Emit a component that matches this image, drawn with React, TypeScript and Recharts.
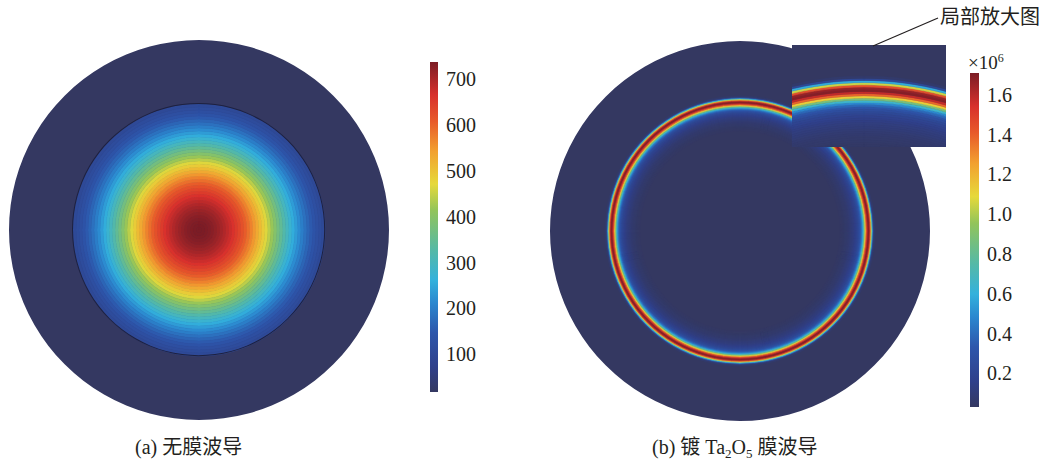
import React from "react";
import {
  PieChart,
  Pie,
  Cell,
  RadialBarChart,
  RadialBar,
  PolarAngleAxis,
  BarChart,
  Bar,
  XAxis,
  YAxis,
} from "recharts";

// colour map (rainbow, low -> high)
const cmapPos = [0, 0.077, 0.179, 0.269, 0.338, 0.43, 0.55, 0.63, 0.73, 0.82, 0.9, 1];
const cmapColors = [
  "#343861",
  "#2f408b",
  "#2d56ab",
  "#2b87cf",
  "#33b1dc",
  "#55b9a6",
  "#92c45a",
  "#e6d93a",
  "#f2a030",
  "#e85a2a",
  "#d8302c",
  "#7b1c25",
];

// (a) bare waveguide: field across the core, centre -> core edge
const coreField = [
  738, 737, 735, 732, 727, 721, 714, 706, 697, 687, 676, 664, 651, 637, 622,
  606, 589, 571, 552, 532, 511, 489, 466, 442, 418, 394, 370, 346, 322, 299,
  277, 256, 236, 217, 199, 182, 166, 151, 137, 124, 112, 101,
];
const rangeA: [number, number] = [17, 738];
const ticksA = [100, 200, 300, 400, 500, 600, 700];

// (b) Ta2O5 coated: field across the film ring, inner -> outer (x10^6)
const ringField = [
  0.035, 0.04, 0.04, 0.045, 0.05, 0.055, 0.06, 0.065, 0.07, 0.08, 0.09, 0.1,
  0.11, 0.12, 0.135, 0.15, 0.17, 0.19, 0.22, 0.26, 0.31, 0.38, 0.48, 0.64,
  0.86, 1.12, 1.38, 1.58, 1.69, 1.66, 1.45, 1.05, 0.58, 0.22, 0.06,
];
const rangeB: [number, number] = [0.03, 1.71];
const ticksB = [0.2, 0.4, 0.6, 0.8, 1.0, 1.2, 1.4, 1.6];

const SERIF = "'Liberation Serif', 'Times New Roman', 'Noto Sans CJK SC', serif";
const INK = "#231f20";

const hex = (h: string) => [1, 3, 5].map((i) => parseInt(h.slice(i, i + 2), 16));
const colorAt = (t: number) => {
  const x = Math.max(0, Math.min(1, t));
  let i = 0;
  while (i < cmapPos.length - 2 && x > cmapPos[i + 1]) i++;
  const f = (x - cmapPos[i]) / (cmapPos[i + 1] - cmapPos[i]);
  const a = hex(cmapColors[i]);
  const b = hex(cmapColors[i + 1]);
  const c = a.map((v, k) => Math.round(v + (b[k] - v) * f));
  return `rgb(${c[0]},${c[1]},${c[2]})`;
};
const NAVY = cmapColors[0];

const Disc = ({ cx, cy, r, inner = 0, fill }: any) => {
  const s = r * 2 + 4;
  return (
    <div style={{ position: "absolute", left: cx - r - 2, top: cy - r - 2 }}>
      <PieChart width={s} height={s} margin={{ top: 0, right: 0, bottom: 0, left: 0 }}>
        <Pie
          data={[{ v: 1 }]}
          dataKey="v"
          cx={r + 2}
          cy={r + 2}
          innerRadius={inner}
          outerRadius={r}
          startAngle={90}
          endAngle={-270}
          fill={fill}
          stroke="none"
          isAnimationActive={false}
        />
      </PieChart>
    </div>
  );
};

const Rings = ({ w, h, cx, cy, inner, outer, values, range }: any) => {
  const data = values.map((v: number, i: number) => ({ i, v, full: 1 }));
  return (
    <RadialBarChart
      width={w}
      height={h}
      cx={cx}
      cy={cy}
      innerRadius={inner}
      outerRadius={outer}
      data={data}
      startAngle={90}
      endAngle={-270}
      barCategoryGap={0}
      barGap={0}
      margin={{ top: 0, right: 0, bottom: 0, left: 0 }}
    >
      <PolarAngleAxis type="number" domain={[0, 1]} tick={false} axisLine={false} />
      <RadialBar dataKey="full" isAnimationActive={false}>
        {data.map((d: any) => {
          const c = colorAt((d.v - range[0]) / (range[1] - range[0]));
          return <Cell key={d.i} fill={c} stroke={c} strokeWidth={0.6} />;
        })}
      </RadialBar>
    </RadialBarChart>
  );
};

const ColorBar = ({ left, top, height, barW, range, ticks, fmt, id }: any) => (
  <div style={{ position: "absolute", left, top }}>
    <BarChart
      width={barW + 62}
      height={height}
      data={[{ k: "c", span: range }]}
      margin={{ top: 0, right: 0, bottom: 0, left: 0 }}
      barCategoryGap={0}
    >
      <defs>
        <linearGradient id={id} x1="0" y1="1" x2="0" y2="0">
          {cmapPos.map((p, i) => (
            <stop key={i} offset={p} stopColor={cmapColors[i]} />
          ))}
        </linearGradient>
      </defs>
      <XAxis dataKey="k" hide />
      <YAxis
        orientation="right"
        type="number"
        domain={range}
        ticks={ticks}
        interval={0}
        tickFormatter={fmt}
        axisLine={false}
        tickLine={false}
        width={62}
        allowDataOverflow
        tick={{ fill: INK, fontSize: 20, fontFamily: SERIF }}
      />
      <Bar dataKey="span" fill={`url(#${id})`} isAnimationActive={false} />
    </BarChart>
  </div>
);

export default function App() {
  const ax = 199, ay = 230;
  const bx = 740, by = 231;
  return (
    <div
      style={{
        position: "absolute",
        left: 0,
        top: 0,
        width: 1047,
        height: 464,
        background: "#fff",
        fontFamily: SERIF,
        color: INK,
      }}
    >
      {/* (a) */}
      <Disc cx={ax} cy={ay} r={190} fill={NAVY} />
      <div style={{ position: "absolute", left: ax - 130, top: ay - 130 }}>
        <Rings w={260} h={260} cx={130} cy={130} inner={0} outer={126} values={coreField} range={rangeA} />
      </div>
      <Disc cx={ax} cy={ay} r={126.6} inner={125.6} fill="#1e2140" />

      {/* (b) */}
      <Disc cx={bx} cy={by} r={190} fill={NAVY} />
      <div style={{ position: "absolute", left: bx - 140, top: by - 140 }}>
        <Rings w={280} h={280} cx={140} cy={140} inner={100} outer={135} values={ringField} range={rangeB} />
      </div>
      <div
        style={{
          position: "absolute",
          left: 792,
          top: 45,
          width: 154,
          height: 102,
          overflow: "hidden",
          background: NAVY,
        }}
      >
        <Rings w={154} h={102} cx={72} cy={346} inner={238} outer={315} values={ringField} range={rangeB} />
      </div>

      <ColorBar left={430} top={62} height={330} barW={8} range={rangeA} ticks={ticksA} fmt={(v: number) => `${v}`} id="cbA" />
      <ColorBar left={970} top={73} height={334} barW={9} range={rangeB} ticks={ticksB} fmt={(v: number) => v.toFixed(1)} id="cbB" />

      <div style={{ position: "absolute", left: 968, top: 46, fontSize: 19, lineHeight: "24px" }}>
        ×10<sup style={{ fontSize: 12, verticalAlign: "7px" }}>6</sup>
      </div>

      <svg width={1047} height={464} style={{ position: "absolute", left: 0, top: 0, pointerEvents: "none" }}>
        <line x1={873} y1={46} x2={938} y2={18} stroke={INK} strokeWidth={1.2} />
      </svg>
      <div style={{ position: "absolute", left: 940, top: 5, fontSize: 20, lineHeight: "24px", whiteSpace: "nowrap" }}>
        局部放大图
      </div>

      <div style={{ position: "absolute", left: 135, top: 435, fontSize: 20, lineHeight: "24px", whiteSpace: "nowrap" }}>
        (a) 无膜波导
      </div>
      <div style={{ position: "absolute", left: 652, top: 435, fontSize: 20, lineHeight: "24px", whiteSpace: "nowrap" }}>
        (b) 镀 Ta<sub style={{ fontSize: 13, verticalAlign: "-4px" }}>2</sub>O
        <sub style={{ fontSize: 13, verticalAlign: "-4px" }}>5</sub> 膜波导
      </div>
    </div>
  );
}
